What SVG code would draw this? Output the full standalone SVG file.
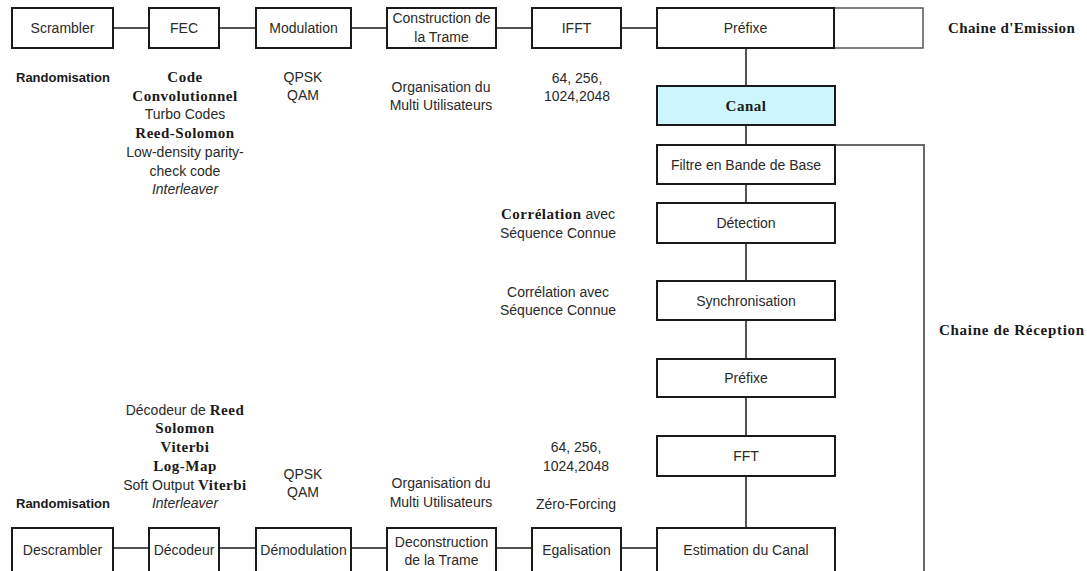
<svg xmlns="http://www.w3.org/2000/svg" width="1087" height="571" viewBox="0 0 1087 571">
<style>
.box{fill:#fff;stroke:#1a1a1a;stroke-width:2}
.canal{fill:#ccf6fb;stroke:#1a1a1a;stroke-width:2}
.gbox{fill:#fff;stroke:#555;stroke-width:1.5}
.ln{stroke:#1a1a1a;stroke-width:1.5;fill:none}
.gl{stroke:#6a6a6a;stroke-width:2;fill:none}
text{font-family:"Liberation Sans",Arial,sans-serif;font-size:14px;fill:#2a2a2a}
.c{text-anchor:middle}
.sb{font-family:"Liberation Sans",Arial,sans-serif;font-weight:bold;font-size:13px;fill:#1a1a1a}
.rb{font-family:"Liberation Serif","Times New Roman",serif;font-weight:bold;font-size:15px;letter-spacing:0.5px;fill:#1a1a1a}
.hd{font-family:"Liberation Serif","Times New Roman",serif;font-weight:bold;font-size:15px;letter-spacing:0.7px;fill:#1a1a1a}
.it{font-style:italic}
</style>
<rect width="1087" height="571" fill="#fff"/>
<g id="connectors">
<line class="ln" x1="113" y1="28" x2="149" y2="28"/>
<line class="ln" x1="219" y1="28" x2="256" y2="28"/>
<line class="ln" x1="351" y1="28" x2="387" y2="28"/>
<line class="ln" x1="496" y1="28" x2="532" y2="28"/>
<line class="ln" x1="621" y1="28" x2="657" y2="28"/>
<line class="ln" x1="746" y1="48" x2="746" y2="86"/>
<line class="ln" x1="746" y1="125" x2="746" y2="145"/>
<line class="ln" x1="746" y1="184" x2="746" y2="203"/>
<line class="ln" x1="746" y1="243" x2="746" y2="281"/>
<line class="ln" x1="746" y1="320" x2="746" y2="359"/>
<line class="ln" x1="746" y1="397" x2="746" y2="436"/>
<line class="ln" x1="746" y1="476" x2="746" y2="528"/>
<line class="ln" x1="113" y1="548" x2="149" y2="548"/>
<line class="ln" x1="219" y1="548" x2="256" y2="548"/>
<line class="ln" x1="351" y1="548" x2="387" y2="548"/>
<line class="ln" x1="496" y1="548" x2="532" y2="548"/>
<line class="ln" x1="621" y1="548" x2="657" y2="548"/>
<polyline class="gl" points="835,145 924,145 924,572"/>
</g>
<g id="scrambler"><rect class="box" x="12" y="8" width="101" height="40"/><text class="c" x="62.5" y="33">Scrambler</text></g>
<g id="fec"><rect class="box" x="149" y="8" width="70" height="40"/><text class="c" x="184" y="33">FEC</text></g>
<g id="modulation"><rect class="box" x="256" y="8" width="95" height="40"/><text class="c" x="303.5" y="33">Modulation</text></g>
<g id="construction"><rect class="box" x="387" y="8" width="109" height="40"/><text class="c" x="441.5" y="23">Construction de</text><text class="c" x="441.5" y="42">la Trame</text></g>
<g id="ifft"><rect class="box" x="532" y="8" width="89" height="40"/><text class="c" x="576.5" y="33">IFFT</text></g>
<g id="prefixe-tx"><rect class="gbox" x="834" y="8" width="89" height="40"/><rect class="box" x="657" y="8" width="177" height="40"/><text class="c" x="745.5" y="33">Préfixe</text></g>
<g id="canal"><rect class="canal" x="657" y="86" width="178" height="39"/><text class="rb c" x="746" y="111">Canal</text></g>
<g id="filtre"><rect class="box" x="657" y="145" width="178" height="39"/><text class="c" x="746" y="170">Filtre en Bande de Base</text></g>
<g id="detection"><rect class="box" x="657" y="203" width="178" height="40"/><text class="c" x="746" y="228">Détection</text></g>
<g id="synchronisation"><rect class="box" x="657" y="281" width="178" height="39"/><text class="c" x="746" y="306">Synchronisation</text></g>
<g id="prefixe-rx"><rect class="box" x="657" y="359" width="178" height="38"/><text class="c" x="746" y="383">Préfixe</text></g>
<g id="fft"><rect class="box" x="657" y="436" width="178" height="40"/><text class="c" x="746" y="461">FFT</text></g>
<g id="estimation"><rect class="box" x="657" y="528" width="178" height="46"/><text class="c" x="746" y="555">Estimation du Canal</text></g>
<g id="descrambler"><rect class="box" x="12" y="528" width="101" height="46"/><text class="c" x="62.5" y="555">Descrambler</text></g>
<g id="decodeur"><rect class="box" x="149" y="528" width="70" height="46"/><text class="c" x="184" y="555">Décodeur</text></g>
<g id="demodulation"><rect class="box" x="256" y="528" width="95" height="46"/><text class="c" x="303.5" y="555">Démodulation</text></g>
<g id="deconstruction"><rect class="box" x="387" y="528" width="109" height="46"/><text class="c" x="441.5" y="547">Deconstruction</text><text class="c" x="441.5" y="565">de la Trame</text></g>
<g id="egalisation"><rect class="box" x="532" y="528" width="89" height="46"/><text class="c" x="576.5" y="555">Egalisation</text></g>
<g id="labels">
<text class="hd" x="948" y="33" style="letter-spacing:0.4px">Chaine d'Emission</text>
<text class="hd" x="939" y="335">Chaine de Réception</text>
<text class="sb" x="16" y="82">Randomisation</text>
<text class="rb c" x="185" y="82">Code</text>
<text class="rb c" x="185" y="101">Convolutionnel</text>
<text class="c" x="185" y="119">Turbo Codes</text>
<text class="rb c" x="185" y="138">Reed-Solomon</text>
<text class="c" x="185" y="157">Low-density parity-</text>
<text class="c" x="185" y="176">check code</text>
<text class="c it" x="185" y="194">Interleaver</text>
<text class="c" x="303" y="82">QPSK</text>
<text class="c" x="303" y="100">QAM</text>
<text class="c" x="441" y="92">Organisation du</text>
<text class="c" x="441" y="110">Multi Utilisateurs</text>
<text class="c" x="577" y="83">64, 256,</text>
<text class="c" x="577" y="101">1024,2048</text>
<text class="c" x="558" y="219"><tspan class="rb">Corrélation</tspan> avec</text>
<text class="c" x="558" y="238">Séquence Connue</text>
<text class="c" x="558" y="297">Corrélation avec</text>
<text class="c" x="558" y="315">Séquence Connue</text>
<text class="c" x="185" y="415">Décodeur de <tspan class="rb">Reed</tspan></text>
<text class="rb c" x="185" y="433">Solomon</text>
<text class="rb c" x="185" y="452">Viterbi</text>
<text class="rb c" x="185" y="471">Log-Map</text>
<text class="c" x="185" y="490">Soft Output <tspan class="rb">Viterbi</tspan></text>
<text class="c it" x="185" y="508">Interleaver</text>
<text class="sb" x="16" y="508">Randomisation</text>
<text class="c" x="303" y="479">QPSK</text>
<text class="c" x="303" y="497">QAM</text>
<text class="c" x="441" y="488">Organisation du</text>
<text class="c" x="441" y="507">Multi Utilisateurs</text>
<text class="c" x="576" y="452">64, 256,</text>
<text class="c" x="576" y="471">1024,2048</text>
<text class="c" x="576" y="509">Zéro-Forcing</text>
</g>
</svg>
